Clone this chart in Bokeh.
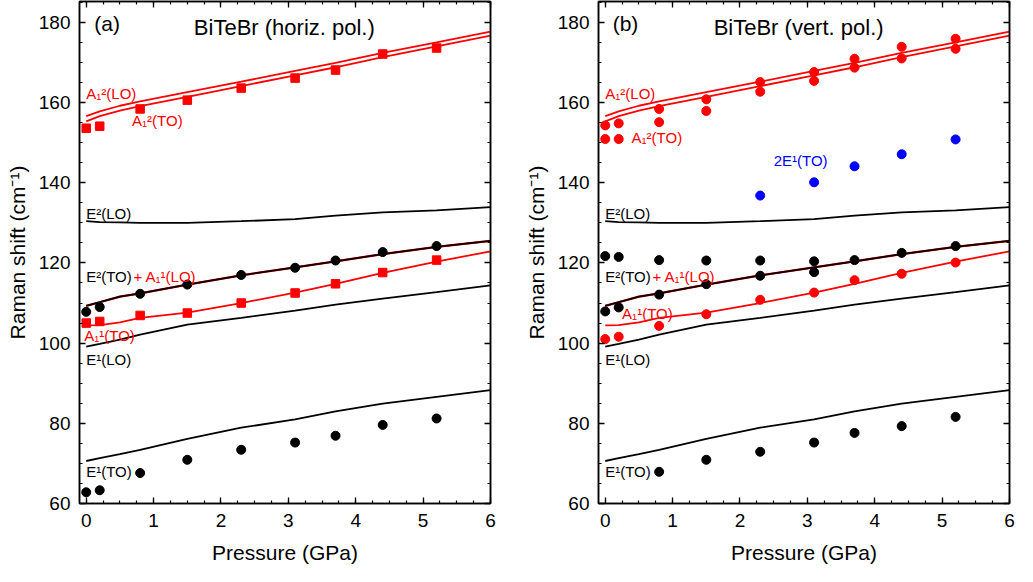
from bokeh.plotting import figure
from bokeh.models import Range1d, LinearAxis, SingleIntervalTicker, CustomJSTickFormatter
from bokeh.layouts import row
from bokeh.core.properties import value
from bokeh.embed import file_html
from bokeh.resources import INLINE

# ---------------- data ----------------
# experimental pressures (GPa)
pressure = [0.0, 0.2, 0.8, 1.5, 2.3, 3.1, 3.7, 4.4, 5.2]

# panel (a) horizontal polarisation
a_A1_2 = [153.6, 154.1, 158.4, 160.6, 163.6, 166.1, 168.1, 172.1, 173.6]   # red squares
a_E2TO = [107.8, 109.0, 112.3, 114.6, 117.0, 118.8, 120.6, 122.7, 124.2]   # black circles
a_A1_1 = [105.0, 105.4, 106.9, 107.5, 110.0, 112.5, 114.8, 117.6, 120.7]   # red squares
a_E1TO = [62.8, 63.3, 67.6, 70.9, 73.4, 75.2, 76.9, 79.6, 81.2]            # black circles

# panel (b) vertical polarisation
b_A1_2_hi = [154.3, 154.8, 158.4, 160.8, 165.1, 167.6, 170.9, 173.9, 175.9]
b_A1_2_lo = [150.9, 150.9, 155.1, 157.9, 162.7, 165.4, 168.7, 171.0, 173.4]
b_black_hi = [121.7, 121.5, 120.7, 120.6, 120.6, 120.4, 120.7, 122.5, 124.2]
b_black_lo_p = [0.0, 0.2, 0.8, 1.5, 2.3, 3.1]
b_black_lo = [107.9, 108.9, 112.1, 114.7, 116.8, 117.7]
b_A1_1 = [101.0, 101.6, 104.3, 107.2, 110.8, 112.6, 115.7, 117.3, 120.1]
b_2E1_p = [2.3, 3.1, 3.7, 4.4, 5.2]
b_2E1 = [136.8, 140.1, 144.1, 147.1, 150.8]
b_E1TO_p = [0.8, 1.5, 2.3, 3.1, 3.7, 4.4, 5.2]
b_E1TO = [67.9, 70.9, 72.9, 75.2, 77.6, 79.3, 81.6]

# calculated curves (same in both panels)
calc_p = [0.0, 0.2, 0.5, 0.8, 1.5, 2.3, 3.1, 3.7, 4.4, 5.2, 6.0]
calc_A1_2_LO = [156.6, 157.8, 159.2, 160.3, 162.6, 165.2, 167.9, 169.9, 172.4, 175.0, 177.7]
calc_A1_2_TO = [155.3, 156.6, 158.0, 159.1, 161.4, 164.1, 166.8, 168.8, 171.3, 174.0, 176.7]
calc_E2_LO = [130.4, 130.2, 130.1, 130.0, 130.0, 130.4, 130.9, 131.8, 132.6, 133.1, 133.9]
calc_E2TO_A1LO = [109.3, 110.2, 111.6, 112.4, 114.6, 116.9, 118.9, 120.4, 122.2, 124.0, 125.5]
calc_A1_1_TO = [104.4, 104.5, 105.2, 106.3, 107.6, 110.0, 112.6, 114.8, 117.5, 120.3, 122.9]
calc_E1_LO = [99.1, 99.8, 100.9, 102.1, 104.6, 106.3, 108.1, 109.6, 111.1, 112.7, 114.4]
calc_E1_TO = [70.6, 71.3, 72.3, 73.4, 76.1, 78.9, 81.0, 83.0, 84.9, 86.6, 88.3]

RED = "#ff0000"
BLUE = "#0000ff"
BLACK = "#000000"
FONT = "Liberation Sans"


def style_axis(ax, ticker, labels=True):
    ax.ticker = ticker
    ax.axis_line_color = BLACK
    ax.axis_line_width = 1.5
    ax.major_tick_line_color = BLACK
    ax.minor_tick_line_color = BLACK
    ax.major_tick_line_width = 1.3
    ax.minor_tick_line_width = 1.2
    ax.major_tick_in = 6
    ax.major_tick_out = 0
    ax.minor_tick_in = 3
    ax.minor_tick_out = 0
    if labels:
        ax.major_label_text_font = FONT
        ax.major_label_text_font_size = "19px"
        ax.major_label_text_color = BLACK
        ax.axis_label_text_font = FONT
        ax.axis_label_text_font_size = "21px"
        ax.axis_label_text_font_style = "normal"
        ax.axis_label_text_color = BLACK
    else:
        ax.formatter = CustomJSTickFormatter(code="return ''")
        ax.major_label_standoff = 0
        ax.axis_label = None


def make_panel(width, border_left, border_right):
    p = figure(width=width, height=566, output_backend="svg", toolbar_location=None,
               x_range=Range1d(-0.1, 6.0), y_range=Range1d(60, 185.2),
               min_border_left=border_left, min_border_right=border_right,
               min_border_top=1, min_border_bottom=56)
    p.xgrid.visible = False
    p.ygrid.visible = False
    p.outline_line_color = BLACK
    p.outline_line_width = 1.5
    p.background_fill_color = "white"
    p.border_fill_color = "white"

    xt = SingleIntervalTicker(interval=1, num_minor_ticks=4)
    yt = SingleIntervalTicker(interval=20, num_minor_ticks=4)
    style_axis(p.xaxis[0], xt)
    style_axis(p.yaxis[0], yt)
    p.xaxis[0].axis_label = "Pressure (GPa)"
    p.yaxis[0].axis_label = "Raman shift (cm\u207b\u00b9)"
    p.xaxis[0].major_label_standoff = 10
    p.yaxis[0].major_label_standoff = 9
    p.xaxis[0].axis_label_standoff = 11
    p.yaxis[0].axis_label_standoff = 7

    top = LinearAxis()
    style_axis(top, SingleIntervalTicker(interval=1, num_minor_ticks=4), labels=False)
    p.add_layout(top, "above")
    right = LinearAxis()
    style_axis(right, SingleIntervalTicker(interval=20, num_minor_ticks=4), labels=False)
    p.add_layout(right, "right")

    # calculated curves
    lw = 1.8
    p.line(calc_p, calc_A1_2_LO, line_color=RED, line_width=lw)
    p.line(calc_p, calc_A1_2_TO, line_color=RED, line_width=lw)
    p.line(calc_p, calc_E2_LO, line_color=BLACK, line_width=lw)
    p.line(calc_p, calc_A1_1_TO, line_color=RED, line_width=lw)
    p.line(calc_p, calc_E2TO_A1LO, line_color=RED, line_width=lw + 0.4)
    p.line(calc_p, calc_E2TO_A1LO, line_color=BLACK, line_width=lw)
    p.line(calc_p, calc_E1_LO, line_color=BLACK, line_width=lw)
    p.line(calc_p, calc_E1_TO, line_color=BLACK, line_width=lw)
    return p


def label(p, x, y, text, color, size="15px", align="left"):
    p.text(x=[x], y=[y], text=[text], text_color=color, text_font=value(FONT),
           text_font_size=size, text_baseline="middle", text_align=align)


A12LO = "A\u2081\u00b2(LO)"
A12TO = "A\u2081\u00b2(TO)"
A11LO = "+ A\u2081\u00b9(LO)"
A11TO = "A\u2081\u00b9(TO)"
E2LO = "E\u00b2(LO)"
E2TO = "E\u00b2(TO)"
E1LO = "E\u00b9(LO)"
E1TO = "E\u00b9(TO)"

# ---------------- panel (a) ----------------
pa = make_panel(518, 79, 28)
pa.scatter(pressure, a_A1_2, marker="square", size=8.5, color=RED)
pa.scatter(pressure, a_A1_1, marker="square", size=8.5, color=RED)
pa.scatter(pressure, a_E2TO, marker="circle", size=9, color=BLACK)
pa.scatter(pressure, a_E1TO, marker="circle", size=9, color=BLACK)

label(pa, 0.12, 179.7, "(a)", BLACK, "21px")
label(pa, 2.94, 178.8, "BiTeBr (horiz. pol.)", BLACK, "22px", "center")
label(pa, 0.0, 162.3, A12LO, RED)
label(pa, 0.68, 155.4, A12TO, RED)
label(pa, 0.0, 132.3, E2LO, BLACK)
label(pa, 0.0, 116.5, E2TO, BLACK)
label(pa, 0.7, 116.5, A11LO, RED)
label(pa, -0.03, 102.0, A11TO, RED)
label(pa, 0.0, 96.0, E1LO, BLACK)
label(pa, 0.0, 68.1, E1TO, BLACK)

# ---------------- panel (b) ----------------
pb = make_panel(499, 80, 8)
pb.scatter(pressure, b_A1_2_hi, marker="circle", size=9, color=RED)
pb.scatter(pressure, b_A1_2_lo, marker="circle", size=9, color=RED)
pb.scatter(pressure, b_A1_1, marker="circle", size=9, color=RED)
pb.scatter(pressure, b_black_hi, marker="circle", size=9, color=BLACK)
pb.scatter(b_black_lo_p, b_black_lo, marker="circle", size=9, color=BLACK)
pb.scatter(b_2E1_p, b_2E1, marker="circle", size=9, color=BLUE)
pb.scatter(b_E1TO_p, b_E1TO, marker="circle", size=9, color=BLACK)

label(pb, 0.11, 179.7, "(b)", BLACK, "21px")
label(pb, 2.87, 178.8, "BiTeBr (vert. pol.)", BLACK, "22px", "center")
label(pb, 0.0, 162.3, A12LO, RED)
label(pb, 0.39, 151.2, A12TO, RED)
label(pb, 2.5, 145.6, "2E\u00b9(TO)", BLUE)
label(pb, 0.0, 132.3, E2LO, BLACK)
label(pb, 0.0, 116.5, E2TO, BLACK)
label(pb, 0.7, 116.5, A11LO, RED)
label(pb, 0.25, 107.5, A11TO, RED)
label(pb, 0.0, 96.0, E1LO, BLACK)
label(pb, 0.0, 68.1, E1TO, BLACK)

layout = row(pa, pb)
open("out.html", "w").write(file_html(layout, INLINE))
